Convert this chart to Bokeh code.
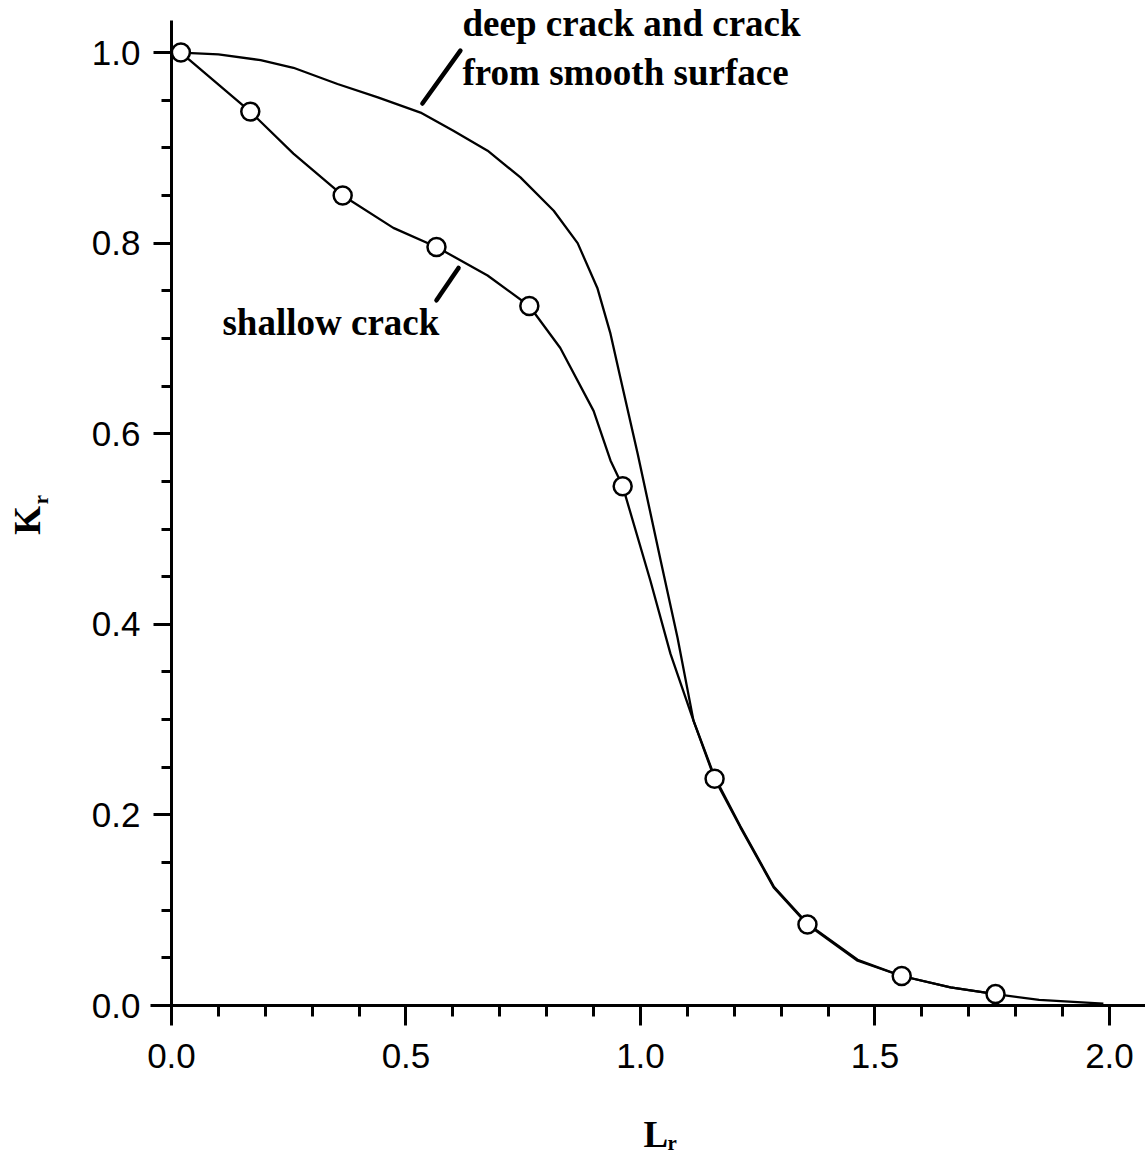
from bokeh.plotting import figure
from bokeh.models import FixedTicker, PrintfTickFormatter, Label, Range1d
from bokeh.embed import file_html
from bokeh.resources import INLINE

# ---- data ----
circle_x = [0.02, 0.168, 0.365, 0.565, 0.763, 0.962, 1.158, 1.356, 1.557, 1.757]
circle_y = [1.0, 0.938, 0.850, 0.796, 0.734, 0.545, 0.238, 0.085, 0.031, 0.012]

shallow_x = [0.02, 0.168, 0.260, 0.365, 0.473, 0.565, 0.674, 0.763, 0.829, 0.900,
             0.936, 0.962, 1.021, 1.064, 1.113, 1.158, 1.213, 1.284, 1.356, 1.463,
             1.557, 1.661, 1.757]
shallow_y = [1.0, 0.938, 0.894, 0.850, 0.816, 0.796, 0.766, 0.734, 0.690, 0.624,
             0.572, 0.545, 0.446, 0.369, 0.299, 0.238, 0.187, 0.124, 0.085, 0.047,
             0.031, 0.019, 0.012]

deep_x = [0.02, 0.10, 0.19, 0.260, 0.354, 0.440, 0.531, 0.601, 0.674, 0.744,
          0.815, 0.866, 0.908, 0.936, 0.957, 0.994, 1.043, 1.079, 1.113, 1.158,
          1.213, 1.284, 1.356, 1.463, 1.557, 1.661, 1.757, 1.85, 1.987]
deep_y = [1.0, 0.998, 0.992, 0.984, 0.967, 0.953, 0.937, 0.918, 0.897, 0.869,
          0.834, 0.800, 0.753, 0.705, 0.659, 0.579, 0.467, 0.386, 0.299, 0.240,
          0.188, 0.125, 0.086, 0.048, 0.031, 0.019, 0.012, 0.006, 0.002]

x_major = [0.0, 0.5, 1.0, 1.5, 2.0]
x_minor = [0.1, 0.2, 0.3, 0.4, 0.6, 0.7, 0.8, 0.9, 1.1, 1.2, 1.3, 1.4,
           1.6, 1.7, 1.8, 1.9]
y_major = [0.0, 0.2, 0.4, 0.6, 0.8, 1.0]
y_minor = [0.05, 0.1, 0.15, 0.25, 0.3, 0.35, 0.45, 0.5, 0.55, 0.65, 0.7, 0.75,
           0.85, 0.9, 0.95]

label_deep_1 = "deep crack and crack"
label_deep_2 = "from smooth surface"
label_shallow = "shallow crack"

# leader strokes
leader_x0 = [0.535, 0.565]
leader_y0 = [0.9465, 0.740]
leader_x1 = [0.616, 0.612]
leader_y1 = [1.002, 0.774]

# ---- figure: frame covers the whole canvas, axes cross at the origin ----
W, H = 1145, 1158
p = figure(frame_width=W, frame_height=H,
           x_range=Range1d(-0.3646, 2.0768), y_range=Range1d(-0.1605, 1.0546),
           min_border_left=0, min_border_right=0, min_border_top=0,
           min_border_bottom=0, title=None,
           output_backend="svg", toolbar_location=None)
p.grid.visible = False
p.outline_line_color = None
p.background_fill_color = "white"
p.border_fill_color = "white"

for ax in (p.xaxis[0], p.yaxis[0]):
    ax.fixed_location = 0
    ax.axis_line_width = 3
    ax.axis_line_color = "black"
    ax.major_tick_line_width = 3
    ax.minor_tick_line_width = 3
    ax.major_tick_line_color = "black"
    ax.minor_tick_line_color = "black"
    ax.major_tick_in = 0
    ax.minor_tick_in = 0
    ax.major_label_text_font = "Liberation Sans"
    ax.major_label_text_font_size = "35px"
    ax.major_label_text_color = "black"
    ax.formatter = PrintfTickFormatter(format="%.1f")

p.xaxis.ticker = FixedTicker(ticks=x_major, minor_ticks=x_minor)
p.xaxis.bounds = (-0.045, 2.0768)
p.xaxis.major_tick_out = 20
p.xaxis.minor_tick_out = 11
p.xaxis.major_label_standoff = 18

p.yaxis.ticker = FixedTicker(ticks=y_major, minor_ticks=y_minor)
p.yaxis.bounds = (0, 1.0336)
p.yaxis.major_tick_out = 18
p.yaxis.minor_tick_out = 10
p.yaxis.major_label_standoff = 13

# curves
p.line(deep_x, deep_y, line_color="black", line_width=2.3)
p.line(shallow_x, shallow_y, line_color="black", line_width=2.3)
p.scatter(circle_x, circle_y, size=18, fill_color="white",
          line_color="black", line_width=2.5)

p.segment(x0=leader_x0, y0=leader_y0, x1=leader_x1, y1=leader_y1,
          line_color="black", line_width=4.5, line_cap="round")

serif = "Liberation Serif"
for txt, x, y in [(label_deep_1, 0.6205, 1.0305),
                  (label_deep_2, 0.6205, 0.979),
                  (label_shallow, 0.1087, 0.7167)]:
    p.add_layout(Label(x=x, y=y, text=txt, text_font=serif,
                       text_font_style="bold", text_font_size="37px",
                       text_color="black", text_align="left",
                       text_baseline="alphabetic"))

# axis titles K_r and L_r
for txt, x, y, size, ang, align in [("K", -0.3070, 0.509, "37px", 1.5708, "center"),
                                     ("r", -0.2793, 0.531, "21px", 1.5708, "center"),
                                     ("L", 1.0064, -0.1354, "37px", 0.0, "left"),
                                     ("r", 1.0576, -0.1438, "21px", 0.0, "left")]:
    p.add_layout(Label(x=x, y=y, text=txt, angle=ang,
                       text_font=serif, text_font_style="bold",
                       text_font_size=size, text_align=align,
                       text_color="black", text_baseline="alphabetic"))

open("out.html", "w").write(file_html(p, INLINE))
